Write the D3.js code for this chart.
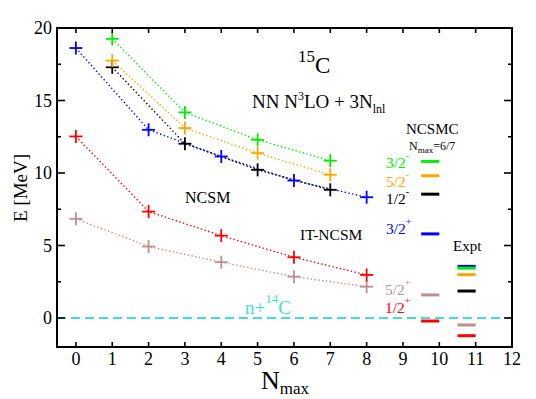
<!DOCTYPE html>
<html><head><meta charset="utf-8">
<script src="https://cdn.jsdelivr.net/npm/d3@7"></script>
<style>body{margin:0;background:#fff}svg{display:block}svg text{font-family:"Liberation Serif","Times New Roman",Times,serif}</style>
</head><body><svg id="c" width="536" height="399"></svg>
<script>
// ---- data ----
const xTicks = [0,1,2,3,4,5,6,7,8,9,10,11,12];
const yMajor = [0,5,10,15,20];
const yMinor = [2.5,7.5,12.5,17.5];
const s32m = {name:"3/2-", color:"#00ee00", x:[1,3,5,7], y:[19.25,14.18,12.29,10.85]};
const s52m = {name:"5/2-", color:"#ffa500", x:[1,3,5,7], y:[17.75,13.1,11.37,9.88]};
const s12m = {name:"1/2-", color:"#000000", x:[1,3,5,7], y:[17.29,12.02,10.22,8.84]};
const s32p = {name:"3/2+", color:"#0000ff", x:[0,2,4,6,8], y:[18.62,12.98,11.14,9.48,8.33]};
const s12p = {name:"1/2+", color:"#ff0000", x:[0,2,4,6,8], y:[12.52,7.34,5.68,4.19,2.97]};
const s52p = {name:"5/2+", color:"#bc8f8f", x:[0,2,4,6,8], y:[6.84,4.93,3.85,2.85,2.16]};
const ncsmcColors = ["#00ee00","#ffa500","#000000","#0000ff","#bc8f8f","#ff0000"];
const ncsmcE      = [10.8, 9.81, 8.54, 5.8, 1.59, -0.21];
const exptColors  = ["#0000ff","#00ee00","#ffa500","#000000","#bc8f8f","#ff0000"];
const exptE       = [3.56, 3.44, 2.99, 1.86, -0.48, -1.22];
const ncsmcRange = [9.5, 10.0];
const exptRange  = [10.5, 11.0];
const threshold = 0;

// ---- layout ----
const L=57, R=512, T=28, B=347;
const svg = d3.select("#c");
const x = d3.scaleLinear().domain([-0.52,12]).range([L,R]);
const y = d3.scaleLinear().domain([-2,20]).range([B,T]);

// threshold dashed line
svg.append("line").attr("x1",L).attr("x2",R).attr("y1",y(threshold)).attr("y2",y(threshold))
  .attr("stroke","#40e0d0").attr("stroke-width",2).attr("stroke-dasharray","9,5");

// series
const series=[s52p,s12p,s32p,s12m,s52m,s32m];
const line=d3.line().x(d=>x(d[0])).y(d=>y(d[1]));
series.forEach(s=>{
  const pts=s.x.map((v,i)=>[v,s.y[i]]);
  svg.append("path").attr("d",line(pts)).attr("fill","none").attr("stroke",s.color)
    .attr("stroke-width",1.4).attr("stroke-dasharray","1.4,2.4");
});
series.forEach(s=>{
  const pts=s.x.map((v,i)=>[v,s.y[i]]);
  const g=svg.append("g");
  pts.forEach(p=>{
    const cx=x(p[0]), cy=y(p[1]), h=6.5;
    g.append("line").attr("x1",cx-h).attr("x2",cx+h).attr("y1",cy).attr("y2",cy).attr("stroke",s.color).attr("stroke-width",1.8);
    g.append("line").attr("x1",cx).attr("x2",cx).attr("y1",cy-h).attr("y2",cy+h).attr("stroke",s.color).attr("stroke-width",1.8);
  });
});
// bars
ncsmcE.forEach((e,i)=>{
  svg.append("line").attr("x1",x(ncsmcRange[0])).attr("x2",x(ncsmcRange[1])).attr("y1",y(e)).attr("y2",y(e))
    .attr("stroke",ncsmcColors[i]).attr("stroke-width",3);
});
exptE.forEach((e,i)=>{
  svg.append("line").attr("x1",x(exptRange[0])).attr("x2",x(exptRange[1])).attr("y1",y(e)).attr("y2",y(e))
    .attr("stroke",exptColors[i]).attr("stroke-width",3);
});

// axes
const ax=svg.append("g").attr("stroke","#000").attr("stroke-width",1.6);
xTicks.forEach(t=>{
  ax.append("line").attr("x1",x(t)).attr("x2",x(t)).attr("y1",B).attr("y2",B-5);
  ax.append("line").attr("x1",x(t)).attr("x2",x(t)).attr("y1",T).attr("y2",T+5);
});
yMajor.forEach(t=>{
  ax.append("line").attr("x1",L).attr("x2",L+8).attr("y1",y(t)).attr("y2",y(t));
  ax.append("line").attr("x1",R).attr("x2",R-8).attr("y1",y(t)).attr("y2",y(t));
});
yMinor.forEach(t=>{
  ax.append("line").attr("x1",L).attr("x2",L+4).attr("y1",y(t)).attr("y2",y(t));
  ax.append("line").attr("x1",R).attr("x2",R-4).attr("y1",y(t)).attr("y2",y(t));
});
svg.append("rect").attr("x",L).attr("y",T).attr("width",R-L).attr("height",B-T)
  .attr("fill","none").attr("stroke","#000").attr("stroke-width",2);

svg.append("g").selectAll("text").data(xTicks).join("text")
  .attr("x",d=>x(d)).attr("y",365).attr("text-anchor","middle").attr("font-size",18).text(d=>d);
svg.append("g").selectAll("text").data(yMajor).join("text")
  .attr("x",52).attr("y",d=>y(d)+6).attr("text-anchor","end").attr("font-size",18).text(d=>d);

// axis titles
const xt=svg.append("text").attr("x",261).attr("y",389).attr("font-size",26);
xt.append("tspan").text("N");
xt.append("tspan").attr("font-size",17).attr("dy",5).text("max");
svg.append("text").attr("transform","translate(27,188) rotate(-90)").attr("text-anchor","middle")
  .attr("font-size",19).text("E [MeV]");

// annotations
function txt(px,py,size,color){return svg.append("text").attr("x",px).attr("y",py).attr("font-size",size).attr("fill",color);}
let t=txt(298,62,17,"#000"); t.text("15");
t=txt(315,73,23,"#000"); t.text("C");
t=txt(252,108,19,"#000");
t.append("tspan").text("NN N");
t.append("tspan").attr("font-size",12).attr("dy",-8).text("3");
t.append("tspan").attr("dy",8).text("LO + 3N");
t.append("tspan").attr("font-size",12).attr("dy",5).text("lnl");

txt(406,134,15,"#000").text("NCSMC");
t=txt(409,150,12,"#000");
t.append("tspan").text("N");
t.append("tspan").attr("font-size",9).attr("dy",3).text("max");
t.append("tspan").attr("dy",-3).text("=6/7");

function spin(px,py,lab,sup,color){
  const e=txt(px,py,15.5,color);
  e.append("tspan").text(lab);
  e.append("tspan").attr("font-size",10).attr("dy",-9).text(sup);
}
spin(386,168,"3/2","-","#00ee00");
spin(386,187,"5/2","-","#ffa500");
spin(386,204,"1/2","-","#000000");
spin(386,234,"3/2","+","#0000ff");
spin(385,295,"5/2","+","#bc8f8f");
spin(385,313,"1/2","+","#ff0000");

txt(453,251,15,"#000").text("Expt");
txt(185,203,16,"#000").text("NCSM");
txt(300,240,15.5,"#000").text("IT-NCSM");

t=txt(245,314,19,"#40e0d0");
t.append("tspan").text("n+");
t.append("tspan").attr("font-size",13).attr("dy",-11).text("14");
t.append("tspan").attr("dy",11).text("C");
</script></body></html>
